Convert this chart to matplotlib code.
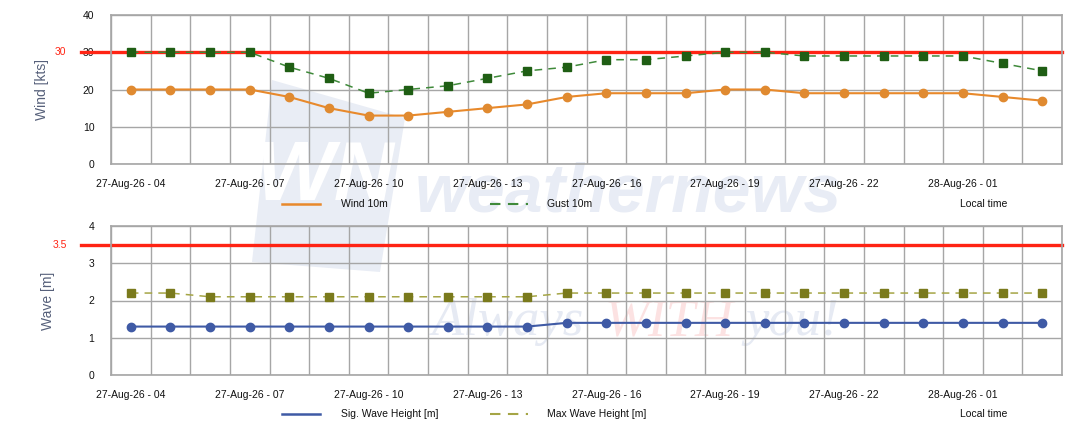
import matplotlib
matplotlib.use("Agg")
import matplotlib.pyplot as plt
from matplotlib.lines import Line2D
from matplotlib.patches import Polygon

plt.rcParams["font.family"] = ["Liberation Sans", "DejaVu Sans"]

# data (hourly, 27-Aug-26 04:00 -> 28-Aug-26 03:00 local time)
hours = ["27-Aug-26 - 04", "27-Aug-26 - 05", "27-Aug-26 - 06", "27-Aug-26 - 07",
         "27-Aug-26 - 08", "27-Aug-26 - 09", "27-Aug-26 - 10", "27-Aug-26 - 11",
         "27-Aug-26 - 12", "27-Aug-26 - 13", "27-Aug-26 - 14", "27-Aug-26 - 15",
         "27-Aug-26 - 16", "27-Aug-26 - 17", "27-Aug-26 - 18", "27-Aug-26 - 19",
         "27-Aug-26 - 20", "27-Aug-26 - 21", "27-Aug-26 - 22", "27-Aug-26 - 23",
         "28-Aug-26 - 00", "28-Aug-26 - 01", "28-Aug-26 - 02", "28-Aug-26 - 03"]
wind_10m = [20, 20, 20, 20, 18, 15, 13, 13, 14, 15, 16, 18,
            19, 19, 19, 20, 20, 19, 19, 19, 19, 19, 18, 17]
gust_10m = [30, 30, 30, 30, 26, 23, 19, 20, 21, 23, 25, 26,
            28, 28, 29, 30, 30, 29, 29, 29, 29, 29, 27, 25]
sig_wave = [1.3, 1.3, 1.3, 1.3, 1.3, 1.3, 1.3, 1.3, 1.3, 1.3, 1.3, 1.4,
            1.4, 1.4, 1.4, 1.4, 1.4, 1.4, 1.4, 1.4, 1.4, 1.4, 1.4, 1.4]
max_wave = [2.2, 2.2, 2.1, 2.1, 2.1, 2.1, 2.1, 2.1, 2.1, 2.1, 2.1, 2.2,
            2.2, 2.2, 2.2, 2.2, 2.2, 2.2, 2.2, 2.2, 2.2, 2.2, 2.2, 2.2]
wind_limit = 30
wave_limit = 3.5

W, H = 1084, 430
fig = plt.figure(figsize=(W / 100, H / 100), dpi=100)


def fx(px):
    return px / W


def fy(py):
    return 1 - py / H


# faint watermark, kept behind the axes
fig.patches.append(Polygon([(fx(272), fy(80)), (fx(405), fy(118)), (fx(380), fy(272)), (fx(252), fy(262))],
                           closed=True, transform=fig.transFigure, facecolor="#e9edf5",
                           edgecolor="none", zorder=0))
fig.text(fx(325), fy(178), "WN", fontsize=60, fontweight="bold", fontstyle="italic",
         color="white", ha="center", va="center", zorder=0.1)
fig.text(fx(415), fy(193), "weathernews", fontsize=49, fontweight="bold", fontstyle="italic",
         color="#e8ecf5", ha="left", va="center", zorder=0.1)
for txt, x0, col in [("Always", 432, "#e6eaf3"), ("WITH", 605, "#fce2e2"), ("you!", 745, "#e6eaf3")]:
    fig.text(fx(x0), fy(322), txt, fontsize=38, fontstyle="italic", family="Liberation Serif",
             color=col, ha="left", va="center", zorder=0.1)

x = list(range(len(hours)))
left, right = 111, 1062
panels = [
    dict(top=15, bottom=164, ylim=(0, 40), yticks=[0, 10, 20, 30, 40], ylabel="Wind [kts]",
         limit=wind_limit, limit_txt="30",
         series=[(wind_10m, "Wind 10m", "-", "#e8892b", "#e08a30", "o"),
                 (gust_10m, "Gust 10m", "--", "#3f8a3a", "#1f5e14", "s")],
         legend_y=204),
    dict(top=226, bottom=375, ylim=(0, 4), yticks=[0, 1, 2, 3, 4], ylabel="Wave [m]",
         limit=wave_limit, limit_txt="3.5",
         series=[(sig_wave, "Sig. Wave Height [m]", "-", "#3f5aa5", "#3f5aa5", "o"),
                 (max_wave, "Max Wave Height [m]", "--", "#a5a545", "#7a7a1c", "s")],
         legend_y=414),
]

for p in panels:
    ax = fig.add_axes([fx(left), fy(p["bottom"]), fx(right - left), (p["bottom"] - p["top"]) / H])
    ax.set_zorder(1)
    ax.set_facecolor("none")
    ax.set_xlim(-0.5, len(hours) - 0.5)
    ax.set_ylim(*p["ylim"])
    ax.set_yticks(p["yticks"])
    ax.set_xticks(x[::3])
    ax.set_xticklabels(hours[::3])
    ax.set_xticks([i - 0.5 for i in range(len(hours) + 1)], minor=True)
    ax.grid(True, which="minor", axis="x", color="#a6a6a6", lw=1)
    ax.grid(True, which="major", axis="y", color="#a6a6a6", lw=1)
    ax.tick_params(axis="both", which="both", length=0, labelsize=7.5, colors="#111111")
    ax.tick_params(axis="x", pad=11)
    ax.tick_params(axis="y", pad=12)
    for s in ax.spines.values():
        s.set_color("#a6a6a6")
        s.set_linewidth(1.2)
    ax.set_axisbelow(True)

    # limit line extends past the left edge of the axes
    ax.plot([-(left - 81) / (right - left), 1], [p["limit"], p["limit"]], color="#ff2414", lw=2.4,
            transform=ax.get_yaxis_transform(), clip_on=False, zorder=2)
    ax.text(-(left - 60) / (right - left), p["limit"], p["limit_txt"], color="#ff2414", fontsize=7.5,
            ha="center", va="center", transform=ax.get_yaxis_transform())

    ax.set_ylabel(p["ylabel"], fontsize=10, color="#56607a", labelpad=24)

    for vals, label, ls, lc, mc, mk in p["series"]:
        ax.plot(x, vals, linestyle=ls, color=lc, lw=1.5 if ls == "-" else 1.1,
                marker=mk, markersize=6, markerfacecolor=mc, markeredgecolor=mc, zorder=3,
                dashes=(5, 4) if ls == "--" else (None, None))

    # legend row under the panel
    ly = fy(p["legend_y"])
    (v1, l1, ls1, c1, _, _), (v2, l2, ls2, c2, _, _) = p["series"]
    fig.add_artist(Line2D([fx(282), fx(320)], [ly, ly], color=c1, lw=1.8, transform=fig.transFigure,
                          zorder=2))
    fig.text(fx(341), ly, l1, fontsize=7.5, va="center", ha="left", color="#111111", zorder=2)
    fig.add_artist(Line2D([fx(490), fx(528)], [ly, ly], color=c2, lw=1.5, linestyle=(0, (5, 3.6)),
                          transform=fig.transFigure, zorder=2))
    fig.text(fx(547), ly, l2, fontsize=7.5, va="center", ha="left", color="#111111", zorder=2)
    fig.text(fx(984), ly, "Local time", fontsize=7.5, va="center", ha="center", color="#111111",
             zorder=2)

fig.savefig("out.png", dpi=100)
